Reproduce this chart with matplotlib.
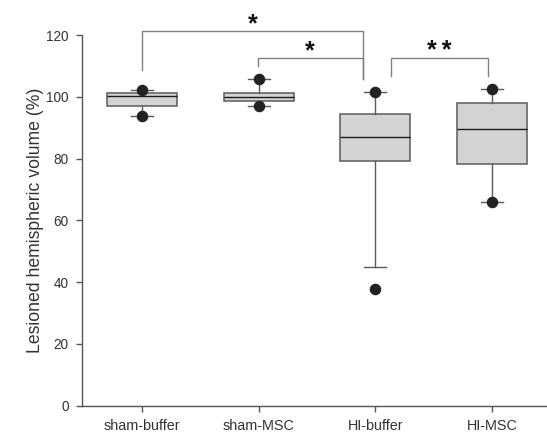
import matplotlib
matplotlib.use("Agg")
import matplotlib.pyplot as plt

categories = ["sham-buffer", "sham-MSC", "HI-buffer", "HI-MSC"]
q1 = [96.9, 98.6, 79.1, 78.3]
medians = [100.3, 100.1, 87.1, 89.7]
q3 = [101.4, 101.4, 94.6, 98.0]
whislo = [93.9, 97.1, 44.8, 65.8]
whishi = [102.2, 105.8, 101.7, 102.7]
dots = [[93.9, 102.2], [97.1, 105.8], [37.7, 101.7], [65.8, 102.7]]

# significance brackets: (x_left, x_right, y_top, y_left_end, y_right_end, label)
brackets = [
    (1.0, 2.893, 121.3, 108.7, 105.8, "*"),
    (1.99, 2.893, 112.7, 110.1, 105.8, "*"),
    (3.135, 3.97, 112.7, 106.8, 106.8, "*\u2009*"),
]

plt.rcParams['font.family'] = ['Liberation Sans', 'DejaVu Sans']

fig = plt.figure(figsize=(5.47, 4.33), dpi=100)
ax = fig.add_axes([0.150, 0.063, 0.85, 0.856])

stats = []
for i, c in enumerate(categories):
    stats.append(dict(label=c, q1=q1[i], med=medians[i], q3=q3[i],
                      whislo=whislo[i], whishi=whishi[i], fliers=[]))

positions = list(range(1, len(categories) + 1))
edge = "#5a5a5a"
ax.bxp(stats, positions=positions, widths=0.6, patch_artist=True,
       showfliers=False, capwidths=0.19,
       boxprops=dict(facecolor="#d3d3d3", edgecolor=edge, linewidth=1.1),
       medianprops=dict(color="#1a1a1a", linewidth=1.0),
       whiskerprops=dict(color=edge, linewidth=1.0),
       capprops=dict(color=edge, linewidth=1.0))

for p, d in zip(positions, dots):
    ax.plot([p] * len(d), d, 'o', color="#222222", markersize=7.3,
            zorder=5, clip_on=False)

for x1, x2, yt, yl, yr, lab in brackets:
    ax.plot([x1, x1, x2, x2], [yl, yt, yt, yr], color="#808080",
            linewidth=1.0, clip_on=False)
    ax.text((x1 + x2) / 2, yt - 1.8, lab, ha="center", va="bottom",
            fontsize=18, fontweight="bold", color="#111111")

ax.set_xlim(0.485, 4.473)
ax.set_ylim(0, 120)
ax.set_yticks(range(0, 121, 20))
ax.set_xticks(positions)
ax.set_xticklabels(categories)
for s in ["top", "right"]:
    ax.spines[s].set_visible(False)
for s in ["left", "bottom"]:
    ax.spines[s].set_color("#555555")
    ax.spines[s].set_linewidth(1.0)
ax.tick_params(axis="both", direction="out", length=4.5, width=1.0,
               color="#555555", labelcolor="#333333")
ax.tick_params(axis="y", pad=5, labelsize=9.8)
ax.tick_params(axis="x", pad=5, labelsize=10.4)
ax.set_ylabel("Lesioned hemispheric volume (%)", fontsize=12.7,
              color="#333333", labelpad=2)

fig.savefig("out.png", dpi=100)
